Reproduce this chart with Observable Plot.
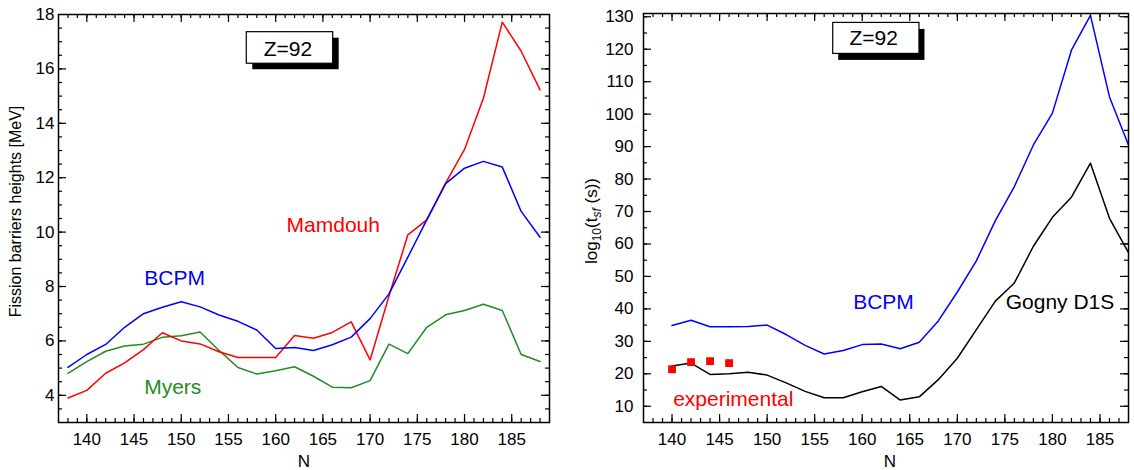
<!DOCTYPE html>
<html><head><meta charset="utf-8">
<script src="https://cdn.jsdelivr.net/npm/d3@7"></script>
<script src="https://cdn.jsdelivr.net/npm/@observablehq/plot@0.6"></script>
<style>
body{margin:0;background:#fff;}
#wrap{position:relative;width:1134px;height:470px;overflow:hidden;background:#fff;}
#left,#right{position:absolute;top:0;}
#left{left:0;}
#right{left:567px;}
</style></head>
<body><div id="wrap"><div id="left"></div><div id="right"></div></div>
<script>
// ---------- data: fission barrier heights (left panel) ----------
const nBarrier = [138,140,142,144,146,148,150,152,154,156,158,160,162,164,166,168,170,172,174,176,178,180,182,184,186,188];
const bcpmBarrier = [5.03,5.5,5.87,6.5,7.0,7.24,7.44,7.25,6.95,6.72,6.4,5.72,5.76,5.65,5.86,6.14,6.82,7.73,9.08,10.45,11.78,12.35,12.6,12.39,10.76,9.81];
const mamdouhBarrier = [3.9,4.18,4.81,5.19,5.68,6.3,6.0,5.89,5.6,5.39,5.39,5.39,6.2,6.1,6.31,6.7,5.3,7.65,9.9,10.45,11.8,13.04,14.92,17.72,16.65,15.23];
const myersBarrier = [4.81,5.24,5.62,5.81,5.88,6.13,6.19,6.33,5.65,5.02,4.78,4.9,5.05,4.7,4.3,4.28,4.54,5.88,5.53,6.5,6.96,7.12,7.35,7.12,5.5,5.24];

// ---------- data: log10 spontaneous fission half-lives (right panel) ----------
const nTsf = [140,142,144,146,148,150,152,154,156,158,160,162,164,166,168,170,172,174,176,178,180,182,184,186,188];
const bcpmTsf = [34.9,36.5,34.5,34.5,34.6,35.0,32.1,28.75,26.1,27.2,29.0,29.2,27.7,29.7,36.3,45.2,54.8,67.2,77.7,90.5,100.3,119.7,130.4,105.3,90.5];
const gognyTsf = [22.4,23.3,19.8,20.0,20.5,19.6,17.2,14.6,12.6,12.6,14.5,16.1,11.9,12.9,18.2,24.8,33.6,42.4,48.0,59.3,68.2,74.4,84.9,67.9,57.3];
const nExp = [140,142,144,146];
const expTsf = [21.4,23.6,23.9,23.3];

// ---------- tick labels ----------
const xTickLabels = [140,145,150,155,160,165,170,175,180,185];
const leftYTickLabels = [4,6,8,10,12,14,16,18];
const rightYTickLabels = [10,20,30,40,50,60,70,80,90,100,110,120,130];

// ---------- colours / fonts ----------
const BLUE = "#0000ff", RED = "#ff0000", GREEN = "#238b23", BLACK = "#000000";
const FONT = "'Liberation Sans', Arial, Helvetica, sans-serif";

const barrierRows = nBarrier.map((n, i) => ({N: n, bcpm: bcpmBarrier[i], mamdouh: mamdouhBarrier[i], myers: myersBarrier[i]}));
const tsfRows = nTsf.map((n, i) => ({N: n, bcpm: bcpmTsf[i], gogny: gognyTsf[i]}));
const expRows = nExp.map((n, i) => ({N: n, t: expTsf[i]}));

function frameTicks(xMinor, xMajor, yMinor, yMajor, H, W) {
  const s = {stroke: BLACK, strokeWidth: 1.2};
  return [
    Plot.tickX(xMinor, {x: d => d, insetTop: H - 4, ...s}),
    Plot.tickX(xMinor, {x: d => d, insetBottom: H - 4, ...s}),
    Plot.tickX(xMajor, {x: d => d, insetTop: H - 8, ...s}),
    Plot.tickX(xMajor, {x: d => d, insetBottom: H - 8, ...s}),
    Plot.tickY(yMinor, {y: d => d, insetRight: W - 4, ...s}),
    Plot.tickY(yMinor, {y: d => d, insetLeft: W - 4, ...s}),
    Plot.tickY(yMajor, {y: d => d, insetRight: W - 8, ...s}),
    Plot.tickY(yMajor, {y: d => d, insetLeft: W - 8, ...s})
  ];
}

function zBox(box, label, dx, dy) {
  return [
    Plot.rect([box], {x1: "x1", x2: "x2", y1: "y1", y2: "y2", fill: BLACK, dx: dx, dy: dy}),
    Plot.rect([box], {x1: "x1", x2: "x2", y1: "y1", y2: "y2", fill: "white", stroke: BLACK, strokeWidth: 1.2}),
    Plot.text([label], {x: "x", y: "y", text: "text", fontSize: 21, lineAnchor: "bottom", textAnchor: "middle", fill: BLACK})
  ];
}

// ---------------- LEFT PANEL ----------------
{
  const W = 567, H = 470, mL = 58, mR = 18, mT = 14, mB = 48;
  const fw = W - mL - mR, fh = H - mT - mB;
  const labels = [
    {x: 166.1, y: 10.0, text: "Mamdouh", color: RED},
    {x: 149.3, y: 8.04, text: "BCPM", color: BLUE},
    {x: 149.1, y: 4.05, text: "Myers", color: GREEN}
  ];
  const chart = Plot.plot({
    width: W, height: H, marginLeft: mL, marginRight: mR, marginTop: mT, marginBottom: mB,
    x: {domain: [137, 189]},
    y: {domain: [3, 18]},
    style: {fontFamily: FONT, fontSize: "17px", background: "white", color: "black"},
    marks: [
      Plot.axisX(xTickLabels, {tickSize: 0, tickPadding: 10.5, label: null, fontSize: 17}),
      Plot.axisY(leftYTickLabels, {tickSize: 0, tickPadding: 4, label: null, fontSize: 17}),
      ...frameTicks(d3.range(138, 189, 1), xTickLabels, d3.range(3.5, 18, 0.5), leftYTickLabels.filter(v => v < 18), fh, fw),
      Plot.line(barrierRows, {x: "N", y: "myers", stroke: GREEN, strokeWidth: 1.5}),
      Plot.line(barrierRows, {x: "N", y: "mamdouh", stroke: RED, strokeWidth: 1.5}),
      Plot.line(barrierRows, {x: "N", y: "bcpm", stroke: BLUE, strokeWidth: 1.5}),
      Plot.text(labels, {x: "x", y: "y", text: "text", fill: "color", fontSize: 21, lineAnchor: "bottom", textAnchor: "middle"}),
      ...zBox({x1: 156.94, x2: 166.09, y1: 16.19, y2: 17.35}, {x: 161.3, y: 16.49, text: "Z=92"}, 6, 6),
      Plot.text(["N"], {x: () => 163, frameAnchor: "bottom", dy: 44, lineAnchor: "bottom", textAnchor: "middle", fontSize: 17}),
      Plot.frame({stroke: BLACK, strokeWidth: 1.5})
    ]
  });
  const svg = d3.select(chart);
  svg.append("text")
    .attr("transform", "translate(20.5,211.5) rotate(-90)")
    .attr("text-anchor", "middle")
    .attr("font-family", FONT)
    .attr("font-size", 16)
    .attr("fill", BLACK)
    .text("Fission barriers heights [MeV]");
  document.getElementById("left").appendChild(chart);
}

// ---------------- RIGHT PANEL ----------------
{
  const W = 567, H = 470, mL = 76, mR = 6, mT = 13, mB = 48;
  const fw = W - mL - mR, fh = H - mT - mB;
  const labels = [
    {x: 162.24, y: 39.9, text: "BCPM", color: BLUE},
    {x: 180.8, y: 39.9, text: "Gogny D1S", color: BLACK},
    {x: 146.44, y: 10.0, text: "experimental", color: RED}
  ];
  const chart = Plot.plot({
    width: W, height: H, marginLeft: mL, marginRight: mR, marginTop: mT, marginBottom: mB,
    x: {domain: [137, 188]},
    y: {domain: [5, 131]},
    style: {fontFamily: FONT, fontSize: "17px", background: "white", color: "black"},
    marks: [
      Plot.axisX(xTickLabels, {tickSize: 0, tickPadding: 10.5, label: null, fontSize: 17}),
      Plot.axisY(rightYTickLabels, {tickSize: 0, tickPadding: 10, label: null, fontSize: 17}),
      ...frameTicks(d3.range(138, 188, 1), xTickLabels, d3.range(10, 131, 5), rightYTickLabels, fh, fw),
      Plot.line(tsfRows, {x: "N", y: "gogny", stroke: BLACK, strokeWidth: 1.5}),
      Plot.line(tsfRows, {x: "N", y: "bcpm", stroke: BLUE, strokeWidth: 1.5}),
      Plot.dot(expRows, {x: "N", y: "t", symbol: "square", r: 4.4, fill: RED, stroke: "none"}),
      Plot.text(labels, {x: "x", y: "y", text: "text", fill: "color", fontSize: 21, lineAnchor: "bottom", textAnchor: "middle"}),
      ...zBox({x1: 156.95, x2: 166.02, y1: 118.55, y2: 128.1}, {x: 161.2, y: 121.4, text: "Z=92"}, 5.5, 6.5),
      Plot.text(["N"], {x: () => 162.9, frameAnchor: "bottom", dy: 44, lineAnchor: "bottom", textAnchor: "middle", fontSize: 17}),
      Plot.frame({stroke: BLACK, strokeWidth: 1.5})
    ]
  });
  const svg = d3.select(chart);
  const t = svg.append("text")
    .attr("transform", "translate(29.7,221) rotate(-90)")
    .attr("text-anchor", "middle")
    .attr("font-family", FONT)
    .attr("font-size", 17)
    .attr("fill", BLACK);
  t.append("tspan").text("log");
  t.append("tspan").attr("font-size", 12).attr("dy", 4).text("10");
  t.append("tspan").attr("dy", -4).text("(t");
  t.append("tspan").attr("font-size", 12).attr("font-style", "italic").attr("dy", 4).text("sf");
  t.append("tspan").attr("dy", -4).text(" (s))");
  document.getElementById("right").appendChild(chart);
}
</script>
</body></html>
